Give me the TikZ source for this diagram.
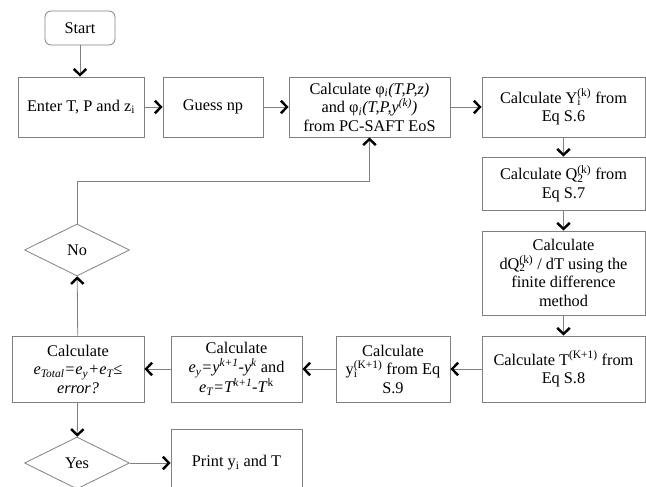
\documentclass[tikz,border=0pt]{standalone}
\usepackage{fontspec}
\setmainfont{Liberation Serif}
\usepackage{tikz}
\usetikzlibrary{positioning,shapes.geometric,arrows.meta}
% sub- and superscript stacked
\newcommand{\subsup}[2]{\rlap{\textsubscript{#1}}\textsuperscript{#2}}

\begin{document}
\begin{tikzpicture}[x=1pt,y=-1pt,
  font=\fontsize{16.3}{18.5}\selectfont,
  box/.style={draw=gray, line width=0.8pt, align=center, inner sep=2pt},
  dia/.style={draw=gray, line width=0.8pt, diamond, minimum width=105pt, minimum height=52pt, inner sep=0pt},
  arr/.style={draw=gray, line width=0.8pt, -{Straight Barb[length=6pt,width=12.5pt,line width=2.4pt 0,color=black]}}]
\useasboundingbox (0,0) rectangle (646,487);
\clip (0,0) rectangle (646,487);
% top row
\node[box, rounded corners=6pt, minimum width=70pt, minimum height=34pt] (start) at (80,28) {Start};
\node[box, minimum width=126pt, minimum height=60pt] (enter) at (81,107) {Enter T, P and z\textsubscript{i}};
\node[box, minimum width=100pt, minimum height=60pt] (guess) at (213,107) {Guess np};
\node[box, minimum width=161pt, minimum height=60pt] (calcphi) at (369.5,107)
  {Calculate φ\textsubscript{\textit{i}}\textit{(T,P,z)}\\and φ\textsubscript{\textit{i}}\textit{(T,P,y\textsuperscript{(k)})}\\from PC-SAFT EoS};
\node[box, minimum width=163pt, minimum height=60pt] (calcY) at (563.5,107) {Calculate Y\subsup{i}{(k)} from\\Eq S.6};
% right column
\node[box, minimum width=163pt, minimum height=53pt] (calcQ) at (563.5,183.5) {Calculate Q\subsup{2}{(k)} from\\Eq S.7};
\node[box, minimum width=163pt, minimum height=84pt] (calcdQ) at (563.5,273)
  {Calculate\\dQ\subsup{2}{(k)} / dT using the\\finite difference\\method};
\node[box, minimum width=163pt, minimum height=66pt] (calcT) at (563.5,369) {Calculate T\textsuperscript{(K+1)} from\\Eq S.8};
% bottom row
\node[box, minimum width=114pt, minimum height=66pt] (calcy) at (393,369) {Calculate\\y\subsup{i}{(K+1)} from Eq\\S.9};
\node[box, minimum width=131pt, minimum height=66pt] (calce) at (236.5,369)
  {Calculate\\\textit{e\textsubscript{y}=y\textsuperscript{k+1}-y\textsuperscript{k}} and\\\textit{e\textsubscript{T}=T\textsuperscript{k+1}-T}\textsuperscript{k}};
\node[box, minimum width=132pt, minimum height=66pt] (calctot) at (78,369)
  {Calculate\\\textit{e\textsubscript{Total}=e\textsubscript{y}+e\textsubscript{T}≤}\\\textit{error?}};
\node[dia] (no) at (77,250) {No};
\node[dia] (yes) at (77,463) {Yes};
\node[box, minimum width=131pt, minimum height=68pt] (print) at (236.5,463) {Print y\textsubscript{i} and T};
\coordinate (bend) at (369.5,181);
% connectors
\draw[arr] (start.south) -- (start.south |- enter.north);
\draw[arr] (enter) -- (guess);
\draw[arr] (guess) -- (calcphi);
\draw[arr] (calcphi) -- (calcY);
\draw[arr] (calcY) -- (calcQ);
\draw[arr] (calcQ) -- (calcdQ);
\draw[arr] (calcdQ) -- (calcT);
\draw[arr] (calcT) -- (calcy);
\draw[arr] (calcy) -- (calce);
\draw[arr] (calce) -- (calctot);
\draw[arr] (calctot) -- (yes);
\draw[arr] (yes) -- (print);
\draw[arr] (calctot) -- (no);
\draw[arr] (no) |- (bend) -- (calcphi);
\end{tikzpicture}
\end{document}
